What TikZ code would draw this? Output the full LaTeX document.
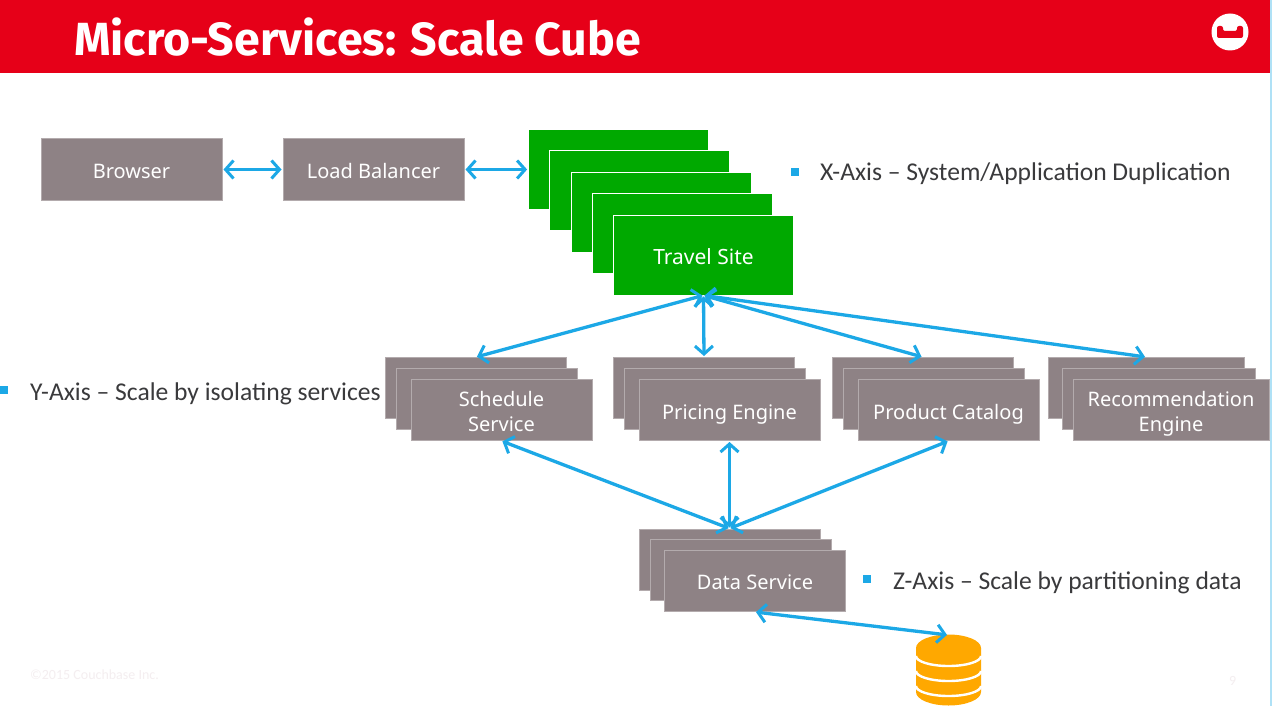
\documentclass[tikz,border=0pt]{standalone}
\usepackage{fontspec}
\usetikzlibrary{arrows.meta}
\setmainfont{Carlito}
\newfontfamily\titlefont{Fira Sans}
\newfontfamily\boxfont{Noto Sans}
\definecolor{brandred}{HTML}{E60018}
\definecolor{boxgrey}{HTML}{8E8285}
\definecolor{boxedge}{HTML}{B3ABAD}
\definecolor{sitegreen}{HTML}{00A900}
\definecolor{linkblue}{HTML}{1CA8E6}
\definecolor{dborange}{HTML}{FFA800}
\definecolor{bodytext}{HTML}{3A3A3C}
\definecolor{faint}{HTML}{F4EEF0}
\newcommand\lbl[2]{\smash{\raisebox{#1pt}{\begin{tabular}[t]{@{}c@{}}#2\end{tabular}}}}
\tikzset{
  x=1pt,y=-1pt,
  card/.style={minimum width=#1,minimum height=61pt,inner sep=0pt,align=center,
    fill=boxgrey,draw=boxedge,line width=1pt,text=white,
    font=\boxfont\fontsize{20}{25}\selectfont},
  card/.default=181pt,
  sitecard/.style={minimum width=180pt,minimum height=80pt,inner sep=0pt,align=center,
    fill=sitegreen,draw=white,line width=0.8pt,text=white,
    font=\boxfont\fontsize{21}{25}\selectfont},
  link/.style={draw=linkblue,line width=3.3pt,
    {Straight Barb[length=8pt,width=18pt,line width=3pt]}-{Straight Barb[length=8pt,width=18pt,line width=3pt]},
    shorten <=1pt,shorten >=1pt},
  bulletmark/.style={fill=linkblue,minimum size=8pt,inner sep=0pt},
  sidetext/.style={anchor=west,inner sep=0pt,text=bodytext,font=\fontsize{25.6}{30}\selectfont},
  faintnote/.style={anchor=west,inner sep=0pt,text=faint,font=\fontsize{14}{16}\selectfont},
}
\begin{document}
\begin{tikzpicture}
\useasboundingbox (0,0) rectangle (1272,706);
\fill[white] (0,0) rectangle (1272,706);
\clip (0,0) rectangle (1272,706);
% header
\fill[brandred] (0,0) rectangle (1270,73);
\fill[linkblue!35] (1270,0) rectangle (1272,706);
\node[anchor=west,inner sep=0pt,text=white,font=\titlefont\bfseries\fontsize{46.5}{52}\selectfont] (title) at (74,37.5) {Micro-Services: Scale Cube};
% logo
\node[circle,fill=white,minimum size=37pt,inner sep=0pt] (logo) at (1230,32) {};
\fill[brandred,rounded corners=2pt] (1217,26) -- (1223,26) -- (1223,31) -- (1237,31) -- (1237,26) -- (1243,26) -- (1243,38) -- (1217,38) -- cycle;
% top row
\node[card] (browser) at (131.5,169.5) {\lbl{-9}{Browser}};
\node[card] (lb) at (373.5,169.5) {\lbl{-9}{Load Balancer}};
% travel site stack
\node[sitecard] (ts1) at (618.5,169.5) {};
\node[sitecard] (ts2) at (639.5,190.5) {};
\node[sitecard] (ts3) at (661,212) {};
\node[sitecard] (ts4) at (682.5,233.5) {};
\node[sitecard] (ts5) at (703.5,255) {\lbl{-9}{Travel Site}};
% schedule
\node[card] (sch1) at (476,388) {};
\node[card] (sch2) at (487,399) {};
\node[card] (sch3) at (501.5,410) {\lbl{4}{Schedule\\Service}};
% pricing
\node[card] (pri1) at (704,388) {};
\node[card] (pri2) at (715,399) {};
\node[card] (pri3) at (729.5,410) {\lbl{-9}{Pricing Engine}};
% catalog
\node[card] (cat1) at (922.5,388) {};
\node[card] (cat2) at (933.5,399) {};
\node[card] (cat3) at (948.5,410) {\lbl{-9}{Product Catalog}};
% recommendation
\node[card=196pt] (rec1) at (1146,388) {};
\node[card=193pt] (rec2) at (1158.5,399) {};
\node[card=196pt] (rec3) at (1171,410) {\lbl{4}{Recommendation\\Engine}};
% data
\node[card] (dat1) at (729.5,559.5) {};
\node[card] (dat2) at (740.5,570) {};
\node[card] (dat3) at (755,581) {\lbl{-8}{Data Service}};
% database
\fill[dborange] (916,648) -- (916,692) arc[start angle=180,end angle=360,x radius=32.5,y radius=-13.5] -- (981,648) -- cycle;
\fill[dborange] (948.5,648) ellipse[x radius=32.5,y radius=13.5];
\foreach \yy in {656,671,686}{
  \draw[white,line width=2.4pt] (916,\yy) arc[start angle=180,end angle=360,x radius=32.5,y radius=-10];
}
\coordinate (dbtop) at (948,635);
% connectors
\draw[link] (browser.east) -- (lb.west);
\draw[link] (lb.east) -- (ts1.west);
\draw[link] (ts5.south) -- (sch1.north);
\draw[link] (ts5.south) -- (pri1.north);
\draw[link] (ts5.south) -- (cat1.north);
\draw[link] (ts5.south) -- (rec1.north);
\draw[link] (sch3.south) -- (dat1.north);
\draw[link] (pri3.south) -- (dat1.north);
\draw[link] (cat3.south) -- (dat1.north);
\draw[link] (dat3.south) -- (dbtop);
% side notes
\node[bulletmark] (bx) at (794.5,172) {};
\node[sidetext] (xt) at (820,174) {X-Axis -- System/Application Duplication};
\node[bulletmark] (by) at (3.5,390) {};
\node[sidetext] (yt) at (30,393.5) {Y-Axis -- Scale by isolating services};
\node[bulletmark] (bz) at (867,579) {};
\node[sidetext] (zt) at (893,582.5) {Z-Axis -- Scale by partitioning data};
% footer
\node[faintnote] (copy) at (30,675) {©2015 Couchbase Inc.};
\node[faintnote] (pg) at (1229,681) {9};
\end{tikzpicture}
\end{document}
